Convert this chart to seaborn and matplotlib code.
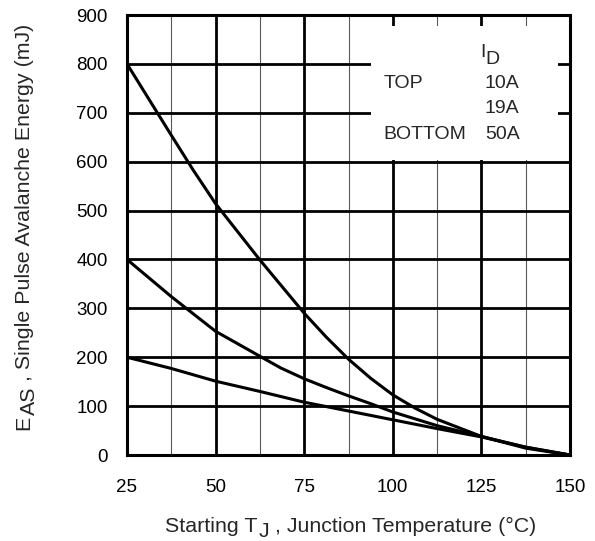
import pandas as pd
import matplotlib
matplotlib.use("Agg")
import matplotlib.pyplot as plt
import seaborn as sns
from matplotlib.patches import Rectangle

# ------------------------------------------------------------
# Values (one x list per curve)
# ------------------------------------------------------------
t_10a = [25, 31.25, 37.5, 43.75, 50, 62.5, 75, 81.25, 87.5, 93.75,
         100, 106.25, 112.5, 125, 137.5, 150]
eas_10a = [800, 727, 654, 582, 514, 399, 290, 241, 196, 157,
           123, 96, 73, 38, 14, 0]

t_19a = [25, 37.5, 50, 62.5, 68.4, 75, 81.25, 87.5, 93.75, 100, 112.5,
         125, 137.5, 150]
eas_19a = [400, 324, 253, 202, 178, 156, 138, 121, 105, 88, 60,
           38, 16, 0]

t_50a = [25, 37.5, 50, 62.5, 75, 87.5, 100, 112.5, 125, 137.5, 150]
eas_50a = [200, 177, 151, 130, 108, 90, 72, 54, 37, 16, 0]

currents = ["10A", "19A", "50A"]
legend_rows = ["TOP", "", "BOTTOM"]
x_ticks = [25, 50, 75, 100, 125, 150]
y_ticks = [0, 100, 200, 300, 400, 500, 600, 700, 800, 900]

df = pd.concat([
    pd.DataFrame({"T": t_10a, "E": eas_10a, "ID": "10A"}),
    pd.DataFrame({"T": t_19a, "E": eas_19a, "ID": "19A"}),
    pd.DataFrame({"T": t_50a, "E": eas_50a, "ID": "50A"}),
], ignore_index=True)

# ------------------------------------------------------------
# Style
# ------------------------------------------------------------
sns.set_style("white")
plt.rcParams["font.family"] = ["Liberation Sans", "DejaVu Sans"]

TICK_FS = 13.5
LEGEND_FS = 14
LABEL_FS = 15.4

fig = plt.figure(figsize=(5.95, 5.41), dpi=100)
ax = fig.add_axes([127 / 595, 1 - 455 / 541, 443 / 595, 440 / 541])

sns.lineplot(data=df, x="T", y="E", hue="ID", palette=["black"] * 3,
             legend=False, linewidth=2.2, ax=ax, zorder=3)

ax.set_xlim(25, 150)
ax.set_ylim(0, 900)
ax.set_xticks(x_ticks)
ax.set_xticks([t + 12.5 for t in x_ticks[:-1]], minor=True)
ax.set_yticks(y_ticks)

ax.set_axisbelow(True)
ax.grid(which="major", color="black", linewidth=2.0)
ax.grid(which="minor", axis="x", color="0.35", linewidth=0.8)

for s in ax.spines.values():
    s.set_linewidth(2.2)
    s.set_color("black")

ax.tick_params(axis="both", which="both", length=0, labelsize=TICK_FS, colors="black")
ax.tick_params(axis="x", pad=17)
ax.tick_params(axis="y", pad=14)
ax.set_xlabel("")
ax.set_ylabel("")

# white box behind the legend text
ax.add_patch(Rectangle((93.8, 603), 52.9, 275, facecolor="white",
                       edgecolor="none", zorder=1))

# I with a full-size, lowered D
t_i = ax.text(124.6, 814, "I", fontsize=LEGEND_FS, ha="left", va="baseline", zorder=4)
ax.annotate("D", xy=(1, 0), xycoords=t_i, xytext=(0.3, -5), textcoords="offset points",
            fontsize=LEGEND_FS, ha="left", va="bottom", zorder=4)

row_y = [760, 708, 656]
for lab, cur, yy in zip(legend_rows, currents, row_y):
    ax.text(97.4, yy, lab, fontsize=LEGEND_FS, va="center", ha="left", zorder=4)
    ax.text(126.0, yy, cur, fontsize=LEGEND_FS, va="center", ha="left", zorder=4)

# ------------------------------------------------------------
# Axis labels built from pieces so the subscripts stay full size
# ------------------------------------------------------------
SUB = 4  # points the subscript is lowered

x1 = fig.text(165 / 595, 1 - 531.7 / 541, "Starting T", fontsize=LABEL_FS,
              ha="left", va="baseline")
x2 = ax.annotate("J", xy=(1, 0), xycoords=x1, xytext=(0.5, -SUB),
                 textcoords="offset points", fontsize=LABEL_FS, ha="left", va="bottom")
ax.annotate(" , Junction Temperature (°C)", xy=(1, 0), xycoords=x2, xytext=(0, SUB),
            textcoords="offset points", fontsize=LABEL_FS, ha="left", va="bottom")

y1 = fig.text(33.7 / 595, 1 - 430 / 541, "E", fontsize=LABEL_FS, rotation=90,
              ha="right", va="bottom")
y2 = ax.annotate("AS", xy=(1, 1), xycoords=y1, xytext=(SUB, 0.5),
                 textcoords="offset points", fontsize=LABEL_FS, rotation=90,
                 ha="right", va="bottom")
ax.annotate(" , Single Pulse Avalanche Energy (mJ)", xy=(1, 1), xycoords=y2,
            xytext=(-SUB, 0), textcoords="offset points", fontsize=LABEL_FS,
            rotation=90, ha="right", va="bottom")

fig.savefig("out.png", dpi=100)
